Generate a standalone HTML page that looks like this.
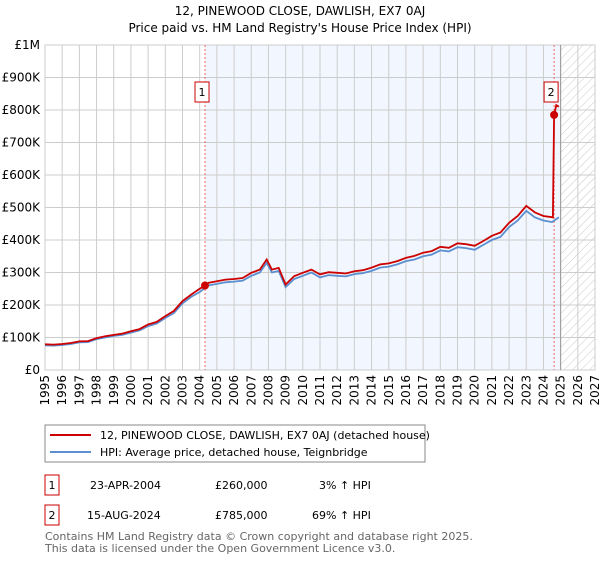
<!DOCTYPE html>
<html><head><meta charset="utf-8"><style>
body{margin:0;background:#fff;width:600px;height:560px;overflow:hidden;font-family:"DejaVu Sans","Liberation Sans",sans-serif;}
</style></head><body>
<svg id="chart" width="600" height="560" xmlns="http://www.w3.org/2000/svg" font-family="DejaVu Sans, Liberation Sans, sans-serif">
<defs><pattern id="hatch" patternUnits="userSpaceOnUse" width="6" height="6" patternTransform="rotate(45)"><line x1="0" y1="0" x2="0" y2="6" stroke="#bbb" stroke-width="0.8"/></pattern></defs>
<text x="300" y="15" text-anchor="middle" font-size="12">12, PINEWOOD CLOSE, DAWLISH, EX7 0AJ</text>
<text x="300" y="32" text-anchor="middle" font-size="12">Price paid vs. HM Land Registry's House Price Index (HPI)</text>
<g id="plot"></g>
<g>
<rect x="45" y="425" width="380" height="37" fill="#fff" stroke="#888"/>
<line x1="50" y1="435" x2="91" y2="435" stroke="#cc0000" stroke-width="2"/>
<text x="100" y="439" font-size="11">12, PINEWOOD CLOSE, DAWLISH, EX7 0AJ (detached house)</text>
<line x1="50" y1="452" x2="91" y2="452" stroke="#5b8fd0" stroke-width="2"/>
<text x="100" y="456" font-size="11">HPI: Average price, detached house, Teignbridge</text>
</g>
<g font-size="11">
<rect x="45" y="475" width="14" height="20" fill="#fff" stroke="#cc0000"/><text x="52" y="489" text-anchor="middle">1</text>
<text x="90" y="489">23-APR-2004</text><text x="215" y="489">£260,000</text><text x="319" y="489">3% ↑ HPI</text>
<rect x="45" y="505" width="14" height="20" fill="#fff" stroke="#cc0000"/><text x="52" y="519" text-anchor="middle">2</text>
<text x="87" y="519">15-AUG-2024</text><text x="215" y="519">£785,000</text><text x="312" y="519">69% ↑ HPI</text>
</g>
<g font-size="11" fill="#666">
<text x="45" y="540">Contains HM Land Registry data © Crown copyright and database right 2025.</text>
<text x="45" y="552">This data is licensed under the Open Government Licence v3.0.</text>
</g>
</svg>
<script>
const hpiYears=[1995,1995.5,1996,1996.5,1997,1997.5,1998,1998.5,1999,1999.5,2000,2000.5,2001,2001.5,2002,2002.5,2003,2003.5,2004,2004.3,2004.5,2005,2005.5,2006,2006.5,2007,2007.5,2007.9,2008.2,2008.6,2009.0,2009.5,2010,2010.5,2011,2011.5,2012,2012.5,2013,2013.5,2014,2014.5,2015,2015.5,2016,2016.5,2017,2017.5,2018,2018.5,2019,2019.5,2020,2020.5,2021,2021.5,2022,2022.5,2023,2023.5,2024,2024.5,2024.9];
const hpiValues=[76,75,77,80,85,86,95,100,105,108,115,122,135,143,160,175,205,225,240,252,260,265,270,272,275,290,300,330,300,305,255,280,290,300,285,292,290,288,295,298,305,315,318,325,335,340,350,355,368,365,378,375,370,385,400,410,440,460,490,470,460,455,470];
const priceYears=[1995,1995.5,1996,1996.5,1997,1997.5,1998,1998.5,1999,1999.5,2000,2000.5,2001,2001.5,2002,2002.5,2003,2003.5,2004,2004.31,2004.5,2005,2005.5,2006,2006.5,2007,2007.5,2007.9,2008.2,2008.6,2009.0,2009.5,2010,2010.5,2011,2011.5,2012,2012.5,2013,2013.5,2014,2014.5,2015,2015.5,2016,2016.5,2017,2017.5,2018,2018.5,2019,2019.5,2020,2020.5,2021,2021.5,2022,2022.5,2023,2023.5,2024,2024.55,2024.62,2024.75,2024.9];
const priceValues=[79,78,80,83,88,89,98,104,108,112,119,126,140,148,166,182,212,232,250,260,268,273,278,280,283,299,309,340,309,314,263,289,299,309,294,301,299,297,304,307,315,325,328,335,345,351,361,366,379,376,390,387,382,397,413,423,453,474,505,485,474,470,785,815,810];
const sales=[[2004.31,260],[2024.62,785]];
const yTicks=[0,100,200,300,400,500,600,700,800,900,1000];
const yLabels=["£0","£100K","£200K","£300K","£400K","£500K","£600K","£700K","£800K","£900K","£1M"];
const xTicks=[1995,1996,1997,1998,1999,2000,2001,2002,2003,2004,2005,2006,2007,2008,2009,2010,2011,2012,2013,2014,2015,2016,2017,2018,2019,2020,2021,2022,2023,2024,2025,2026,2027];
const L=45,R=595,T=45,B=370;
const x=v=>L+(v-1995)/(2027-1995)*(R-L);
const y=v=>B-v/1000*(B-T);
const g=document.getElementById('plot');
const NS='http://www.w3.org/2000/svg';
function mk(t,a,p){const e=document.createElementNS(NS,t);for(const k in a)e.setAttribute(k,a[k]);(p||g).appendChild(e);return e;}
let e;
e=mk('rect',{x:x(2004.31),y:T,width:x(2025)-x(2004.31),height:B-T,fill:'#f2f6fe'});


e=mk('rect',{x:x(2025),y:T,width:R-x(2025),height:B-T,fill:'url(#hatch)'});


yTicks.forEach((v,i)=>{
 e=mk('line',{x1:L,x2:R,y1:y(v),y2:y(v),stroke:'#ccc','stroke-width':1});
 
 
 e=mk('text',{x:L-5,y:y(v)+4,'text-anchor':'end','font-size':12});
 e.textContent=yLabels[i];
 
 
});
xTicks.forEach(v=>{
 e=mk('line',{x1:x(v),x2:x(v),y1:T,y2:B,stroke:'#ccc','stroke-width':1});
 
 
 e=mk('text',{transform:`translate(${x(v)+4},${B+5}) rotate(-90)`,'text-anchor':'end','font-size':12});
 e.textContent=v;
 
 
});
e=mk('rect',{x:L,y:T,width:R-L,height:B-T,fill:'none',stroke:'#ccc'});


e=mk('line',{x1:x(2025),x2:x(2025),y1:T,y2:B,stroke:'#999','stroke-width':1});


sales.forEach((s,i)=>{
 e=mk('line',{x1:x(s[0]),x2:x(s[0]),y1:T,y2:B,stroke:'#e66','stroke-width':1,'stroke-dasharray':'2,2'});
 
 
});
const pts=(xs,vs)=>xs.map((v,i)=>x(v).toFixed(1)+','+y(vs[i]).toFixed(1)).join(' ');
e=mk('polyline',{points:pts(hpiYears,hpiValues),fill:'none',stroke:'#5b8fd0','stroke-width':1.8});


e=mk('polyline',{points:pts(priceYears,priceValues),fill:'none',stroke:'#cc0000','stroke-width':1.8});


sales.forEach((s,i)=>{
 e=mk('circle',{cx:x(s[0]),cy:y(s[1]),r:4,fill:'#cc0000'});
 
 
 const bx=x(s[0])-3,by=92;
 e=mk('rect',{x:bx-7,y:by-10,width:14,height:20,fill:'#fff',stroke:'#cc0000'});
 
 
 e=mk('text',{x:bx,y:by+4,'text-anchor':'middle','font-size':11});
 e.textContent=String(i+1);
 
 
});
</script>
</body></html>
